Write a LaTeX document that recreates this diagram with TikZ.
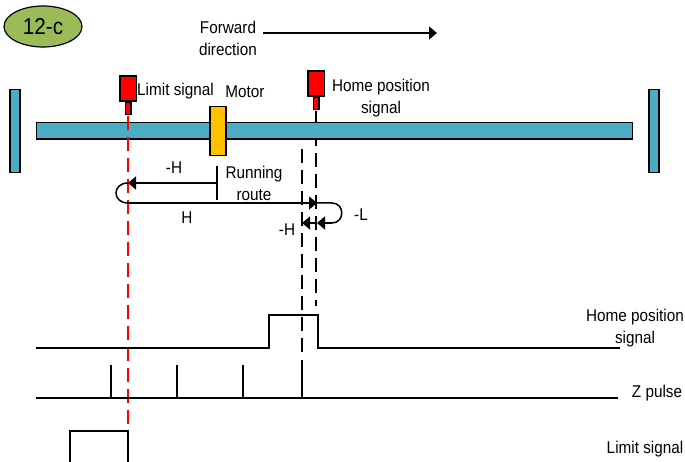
\documentclass[tikz,border=0pt]{standalone}
\usepackage{fontspec}
\setmainfont[FakeStretch=0.9]{Liberation Sans}
\usetikzlibrary{arrows.meta,shapes.geometric}
\definecolor{railblue}{HTML}{4BACC6}
\definecolor{motorgold}{HTML}{FFC000}
\definecolor{badgegreen}{HTML}{9BBB59}
\tikzset{
  x=1pt,y=-1pt,
  lbl/.style={font=\fontsize{17}{18}\selectfont,inner sep=0pt,align=center,text=black},
  part/.style={draw=black,line width=1.5pt},
  sig/.style={draw=black,line width=1.5pt},
  route/.style={draw=black,line width=1.5pt},
  guide/.style={draw=black,line width=1.5pt,dash pattern=on 14pt off 7pt},
  redguide/.style={draw=red,line width=1.5pt,dash pattern=on 14pt off 7pt},
  tip/.style={-{Triangle[length=8pt,width=13pt]}}
}
\begin{document}
\begin{tikzpicture}
\useasboundingbox (0,0) rectangle (685,462);
% badge
\node[ellipse,draw=black,line width=1.2pt,fill=badgegreen,minimum width=78pt,minimum height=41pt,inner sep=0pt,font=\fontsize{23}{25}\selectfont] (badge) at (43,26.5) {12-c};
% forward
\node[lbl] (fwd) at (228,38.5) {Forward\\[4pt]direction};
\coordinate (fwdA) at (263,33);
\coordinate (fwdB) at (437,33);
\draw[route,tip] (fwdA) -- (fwdB);
% guides behind the rail
\coordinate (homeTop) at (316,111);
\coordinate (homeBot) at (316,306);
\draw[guide] (homeTop) -- (homeBot);
\coordinate (leftTop) at (302,149);
\coordinate (leftBot) at (302,358);
\draw[guide] (leftTop) -- (leftBot);
% stops and rail
\node[part,fill=railblue,minimum width=10pt,minimum height=83pt,inner sep=0pt] (stopL) at (15,131) {};
\node[part,fill=railblue,minimum width=10pt,minimum height=83pt,inner sep=0pt] (stopR) at (654,131) {};
\node[part,fill=railblue,minimum width=596pt,minimum height=16.5pt,inner sep=0pt] (rail) at (334.5,131) {};
% motor
\node[part,fill=motorgold,minimum width=16pt,minimum height=49pt,inner sep=0pt] (motor) at (218,131) {};
% sensors
\node[part,fill=red,minimum width=16.5pt,minimum height=25pt,inner sep=0pt] (sens1) at (128,88.5) {};
\node[part,fill=red,minimum width=5.5pt,minimum height=12pt,inner sep=0pt,anchor=north] (sens1b) at (sens1.south) {};
\node[part,fill=red,minimum width=16.5pt,minimum height=25pt,inner sep=0pt] (sens2) at (316,83.5) {};
\node[part,fill=red,minimum width=5.5pt,minimum height=12pt,inner sep=0pt,anchor=north] (sens2b) at (sens2.south) {};
% red guide over the rail
\coordinate (limTop) at (128,116);
\coordinate (limBot) at (128,426);
\draw[redguide] (limTop) -- (limBot);
% labels
\node[lbl] (limL) at (175.5,91) {Limit signal};
\node[lbl] (motL) at (245,92) {Motor};
\node[lbl] (homeL) at (381,98.5) {Home position\\[4pt]signal};
\node[lbl] (runL) at (254,183) {Running\\[4pt]route};
\node[lbl] (h1) at (174,168) {-H};
\node[lbl] (h2) at (187,218) {H};
\node[lbl] (h3) at (287,230) {-H};
\node[lbl] (l1) at (361,215) {-L};
\node[lbl] (homeS) at (635,328.5) {Home position\\[4pt]signal};
\node[lbl] (zS) at (657,393) {Z pulse};
\node[lbl] (limS) at (645,449) {Limit signal};
% route
\coordinate (rT) at (217,166);
\coordinate (rB) at (217,200);
\coordinate (r1) at (217,183);
\coordinate (r2) at (128,183);
\coordinate (r3) at (128,203);
\coordinate (r4) at (317,203);
\coordinate (r5) at (332,203);
\coordinate (r6) at (332,223);
\coordinate (r7) at (317,223);
\coordinate (r8) at (302,223);
\draw[route] (rT) -- (rB);
\draw[route,tip] (r1) -- (r2);
\draw[route] (r2) .. controls (112,183) and (112,203) .. (r3);
\draw[route,tip] (r3) -- (r4);
\draw[route] (r4) -- (r5) .. controls (345,203) and (345,223) .. (r6);
\draw[route,tip] (r6) -- (r7);
\draw[route,tip] (r7) -- (r8);
% home signal
\coordinate (a1) at (36,348);
\coordinate (a2) at (269,348);
\coordinate (a3) at (269,315);
\coordinate (a4) at (318,315);
\coordinate (a5) at (318,348);
\coordinate (a6) at (620,348);
\draw[sig] (a1) -- (a2) -- (a3) -- (a4) -- (a5) -- (a6);
% z pulse
\coordinate (z1) at (36,398);
\coordinate (z2) at (618,398);
\draw[sig] (z1) -- (z2);
\coordinate (p1) at (111,398); \coordinate (p1t) at (111,365);
\coordinate (p2) at (177,398); \coordinate (p2t) at (177,365);
\coordinate (p3) at (243,398); \coordinate (p3t) at (243,365);
\coordinate (p4) at (302,398); \coordinate (p4t) at (302,360);
\draw[sig] (p1) -- (p1t);
\draw[sig] (p2) -- (p2t);
\draw[sig] (p3) -- (p3t);
\draw[sig] (p4) -- (p4t);
% limit signal
\coordinate (b1) at (70,462);
\coordinate (b2) at (70,431);
\coordinate (b3) at (128,431);
\coordinate (b4) at (128,462);
\draw[sig] (b1) -- (b2) -- (b3) -- (b4);
\end{tikzpicture}
\end{document}
